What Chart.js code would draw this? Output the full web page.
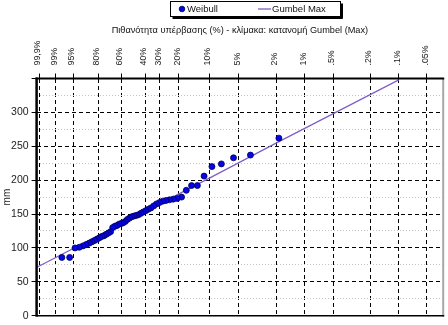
<!DOCTYPE html>
<html><head><meta charset="utf-8">
<script src="https://cdn.jsdelivr.net/npm/chart.js@4.4.1/dist/chart.umd.min.js"></script>
<style>html,body{margin:0;padding:0;background:#fff;}canvas{display:block}</style>
</head><body>
<canvas id="c" width="448" height="325"></canvas>
<script>
// Exceedance probability ticks (%) of the Gumbel probability axis
const xTickProbs = [99.9, 99, 95, 80, 60, 40, 30, 20, 10, 5, 2, 1, 0.5, 0.2, 0.1, 0.05];
const xTickLabels = ['99,9%','99%','95%','80%','60%','40%','30%','20%','10%','5%','2%','1%','.5%','.2%','.1%','.05%'];

// Weibull plotting positions (exceedance %) and observed values (mm)
const weibullExceed = [1.89, 3.77, 5.66, 7.55, 9.43, 11.32, 13.21, 15.09, 16.98, 18.87,
  20.75, 22.64, 24.53, 26.42, 28.30, 30.19, 32.08, 33.96, 35.85, 37.74,
  39.62, 41.51, 43.40, 45.28, 47.17, 49.06, 50.94, 52.83, 54.72, 56.60,
  58.49, 60.38, 62.26, 64.15, 66.04, 67.92, 69.81, 71.70, 73.58, 75.47,
  77.36, 79.25, 81.13, 83.02, 84.91, 86.79, 88.68, 90.57, 92.45, 94.34,
  96.23, 98.11];
const weibullMm = [262, 237, 233, 224, 220, 206, 192, 192, 185, 175,
  173, 172, 171, 170, 169, 167, 165, 162, 159, 157,
  155, 153, 151, 149, 148, 147, 146, 144, 142, 139,
  137, 136, 135, 133, 132, 130, 124, 122, 120, 118,
  117, 115, 113, 111, 109, 107, 105, 103, 101, 100,
  86, 86];

// Fitted Gumbel Max line (exceedance %, mm)
const gumbelExceed = [99.94, 10, 2, 0.1];
const gumbelMm = [71, 203, 255, 348];

const yMin = 0, yMax = 350, yStep = 25, yLabelStep = 50;
const xMin = -2, xMax = 8;

const FONT = "'Liberation Sans', Arial, sans-serif";

// Gumbel reduced variate of an exceedance probability (%)
function rv(p) { return -Math.log(-Math.log(1 - p / 100)); }

const weibullData = weibullExceed.map((p, i) => ({x: rv(p), y: weibullMm[i]}));
const gumbelData = gumbelExceed.map((p, i) => ({x: rv(p), y: gumbelMm[i]}));

const framePlugin = {
  id: 'frame',
  beforeDraw(chart) {
    const ctx = chart.ctx;
    ctx.save();
    ctx.fillStyle = '#fff';
    ctx.fillRect(0, 0, chart.width, chart.height);
    ctx.restore();
  },
  afterDraw(chart) {
    const {ctx, chartArea: a} = chart;
    ctx.save();
    // right grey edge
    ctx.strokeStyle = '#a8a8a8'; ctx.lineWidth = 2;
    ctx.beginPath(); ctx.moveTo(a.right, a.top); ctx.lineTo(a.right, a.bottom + 1); ctx.stroke();
    // bottom
    ctx.strokeStyle = '#000'; ctx.lineWidth = 1.5;
    ctx.beginPath(); ctx.moveTo(a.left, a.bottom); ctx.lineTo(a.right + 1, a.bottom); ctx.stroke();
    // top
    ctx.lineWidth = 2;
    ctx.beginPath(); ctx.moveTo(a.left - 1, a.top); ctx.lineTo(a.right + 1, a.top); ctx.stroke();
    // left
    ctx.lineWidth = 2.5;
    ctx.beginPath(); ctx.moveTo(a.left, a.top - 1); ctx.lineTo(a.left, a.bottom + 1); ctx.stroke();

    // title
    ctx.fillStyle = '#111';
    ctx.font = '9.2px ' + FONT;
    ctx.textAlign = 'center'; ctx.textBaseline = 'middle';
    ctx.fillText(chart.options.plugins.frame.title, (a.left + a.right) / 2, 30);

    // legend box
    const ds = chart.data.datasets;
    const bx = 170.5, by = 1.5, bw = 170, bh = 15;
    ctx.fillStyle = '#000';
    ctx.fillRect(bx + 2, by + bh, bw, 2.5);
    ctx.fillRect(bx + bw, by + 2, 2.5, bh);
    ctx.strokeStyle = '#000'; ctx.lineWidth = 1;
    ctx.strokeRect(bx, by, bw, bh);
    const cy = by + bh / 2;
    ctx.fillStyle = ds[0].backgroundColor;
    ctx.beginPath(); ctx.arc(182, cy, 2.8, 0, Math.PI * 2); ctx.fill();
    ctx.strokeStyle = ds[0].borderColor; ctx.lineWidth = 0.8; ctx.stroke();
    ctx.fillStyle = '#111';
    ctx.font = '9.5px ' + FONT;
    ctx.textAlign = 'left';
    ctx.fillText(ds[0].label, 187, cy + 0.5);
    ctx.strokeStyle = ds[1].borderColor; ctx.lineWidth = 1.3;
    ctx.beginPath(); ctx.moveTo(258, cy); ctx.lineTo(271, cy); ctx.stroke();
    ctx.fillText(ds[1].label, 272, cy + 0.5);
    ctx.restore();
  }
};

new Chart(document.getElementById('c'), {
  type: 'scatter',
  data: {
    datasets: [
      {
        label: 'Weibull',
        data: weibullData,
        backgroundColor: '#0505e6',
        borderColor: '#00005a',
        borderWidth: 0.8,
        pointRadius: 3,
        order: 0
      },
      {
        label: 'Gumbel Max',
        data: gumbelData,
        showLine: true,
        borderColor: '#7e5ec6',
        backgroundColor: '#7e5ec6',
        borderWidth: 1.2,
        pointRadius: 0,
        order: 1
      }
    ]
  },
  plugins: [framePlugin],
  options: {
    responsive: false,
    animation: false,
    devicePixelRatio: 1,
    layout: {padding: {left: 0, right: 4, top: 0, bottom: 8.5}},
    plugins: {
      legend: {display: false},
      tooltip: {enabled: false},
      frame: {title: 'Πιθανότητα υπέρβασης (%) - κλίμακα: κατανομή Gumbel (Max)'}
    },
    scales: {
      x: {
        type: 'linear',
        position: 'top',
        min: xMin, max: xMax,
        afterBuildTicks: (scale) => { scale.ticks = xTickProbs.map(p => ({value: rv(p)})); },
        afterFit: (scale) => { scale.height = 78.5; },
        ticks: {
          autoSkip: false,
          minRotation: 90, maxRotation: 90,
          padding: 8,
          labelOffset: 9,
          color: '#222',
          font: {family: FONT, size: 8.8},
          callback: (v, i) => xTickLabels[i]
        },
        grid: {
          color: '#000',
          lineWidth: 1,
          tickLength: 5,
          tickColor: '#000'
        },
        border: {display: false, dash: [4, 3]}
      },
      y: {
        min: yMin, max: yMax,
        afterBuildTicks: (scale) => {
          const t = [];
          for (let v = yMin; v <= yMax; v += yStep) t.push({value: v});
          scale.ticks = t;
        },
        afterFit: (scale) => { scale.width = 36.6; },
        ticks: {
          autoSkip: false,
          padding: 3,
          color: '#222',
          font: {family: FONT, size: 10.5},
          callback: (v) => (v % yLabelStep === 0 && v < yMax) ? String(v) : ''
        },
        grid: {
          color: (c) => (c.tick && c.tick.value % yLabelStep === 0) ? '#000' : '#c4c4c4',
          lineWidth: 1,
          tickLength: 5,
          tickColor: (c) => (c.tick && c.tick.value % yLabelStep === 0) ? '#000' : 'rgba(0,0,0,0)'
        },
        border: {
          display: false,
          dash: (c) => (c.tick && c.tick.value % yLabelStep === 0) ? [4, 3] : [1, 2]
        },
        title: {
          display: true,
          text: 'mm',
          color: '#222',
          font: {family: FONT, size: 10},
          padding: {top: 1, bottom: 0}
        }
      }
    }
  }
});
</script>
</body></html>
